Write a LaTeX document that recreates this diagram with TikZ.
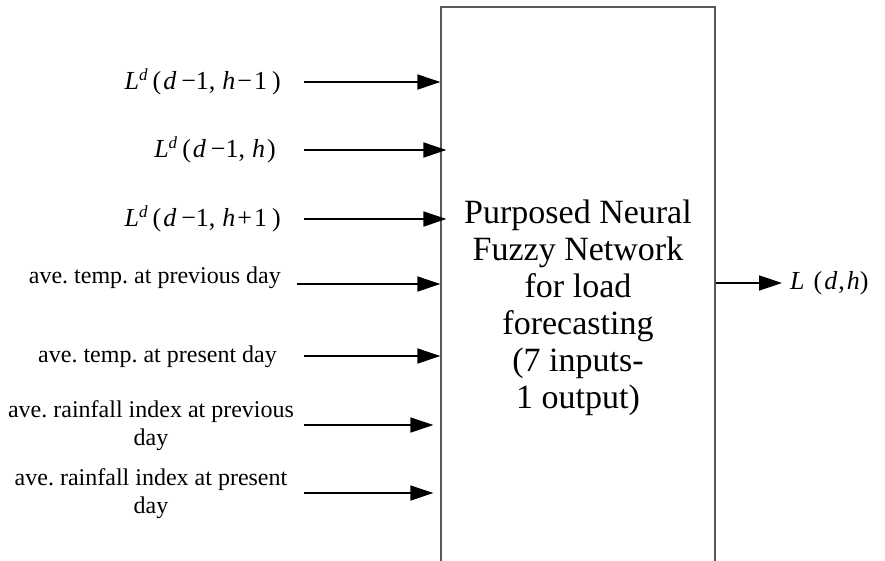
\documentclass[tikz,border=0pt]{standalone}
\usepackage{fontspec}
\setmainfont{Liberation Serif}
\usetikzlibrary{arrows.meta}
\newcommand{\vi}[1]{\textit{#1}}
\newcommand{\supd}{\raisebox{9pt}{\fontsize{17}{17}\selectfont\vi{d}}}

\begin{document}
\frenchspacing
\begin{tikzpicture}[x=1pt,y=-1pt,>={Triangle[length=23pt,width=15pt]},
    inarrow/.style={->,line width=1.6pt},
    lbl/.style={font=\fontsize{24}{28}\selectfont,inner sep=0pt,align=center},
    mlbl/.style={font=\fontsize{26}{30}\selectfont,inner sep=0pt}]
  \useasboundingbox (0,0) rectangle (885,560);
  % network block
  \node[draw=black!65,line width=1.2pt,minimum width=274pt,minimum height=566pt,inner sep=0pt] (nfn) at (578,290) {};
  \node[font=\fontsize{34}{37}\selectfont,align=center,inner sep=0pt] (nfntext) at (578,308)
    {Purposed Neural\\Fuzzy Network\\for load\\forecasting\\(7 inputs-\\1 output)};
  % inputs
  \node[mlbl,anchor=east] (in1) at (281,82) {\vi{L}\supd\kern5pt(\kern2pt\vi{d}\kern5pt−1,\kern7pt\vi{h}\kern2pt−\kern2pt1\kern5pt)};
  \node[mlbl,anchor=east] (in2) at (276,150) {\vi{L}\supd\kern5pt(\kern2pt\vi{d}\kern5pt−1,\kern7pt\vi{h}\kern2pt)};
  \node[mlbl,anchor=east] (in3) at (281,219) {\vi{L}\supd\kern5pt(\kern2pt\vi{d}\kern5pt−1,\kern7pt\vi{h}\kern2pt+\kern2pt1\kern5pt)};
  \node[lbl,anchor=east] (in4) at (281,278) {ave. temp. at previous day};
  \node[lbl,anchor=east] (in5) at (277,357) {ave. temp. at present day};
  \node[lbl] (in6) at (151,426) {ave. rainfall index at previous\\day};
  \node[lbl] (in7) at (151,494) {ave. rainfall index at present\\day};
  \coordinate (s1) at (304,82);
  \coordinate (s2) at (304,150);
  \coordinate (s3) at (304,219);
  \coordinate (s4) at (297,284);
  \coordinate (s5) at (304,356);
  \coordinate (s6) at (304,425);
  \coordinate (s7) at (304,493);
  \draw[inarrow] (s1) -- (s1 -| nfn.west);
  \draw[inarrow,shorten >=-6pt] (s2) -- (s2 -| nfn.west);
  \draw[inarrow,shorten >=-6pt] (s3) -- (s3 -| nfn.west);
  \draw[inarrow] (s4) -- (s4 -| nfn.west);
  \draw[inarrow] (s5) -- (s5 -| nfn.west);
  \draw[inarrow,shorten >=7pt] (s6) -- (s6 -| nfn.west);
  \draw[inarrow,shorten >=7pt] (s7) -- (s7 -| nfn.west);
  % output
  \coordinate (o1) at (782,283);
  \node[mlbl,anchor=west] (out) at (790,283) {\vi{L}\kern9pt(\kern2pt\vi{d}\kern1pt,\kern2pt\vi{h})};
  \draw[inarrow] (o1 -| nfn.east) -- (o1);
\end{tikzpicture}
\end{document}
